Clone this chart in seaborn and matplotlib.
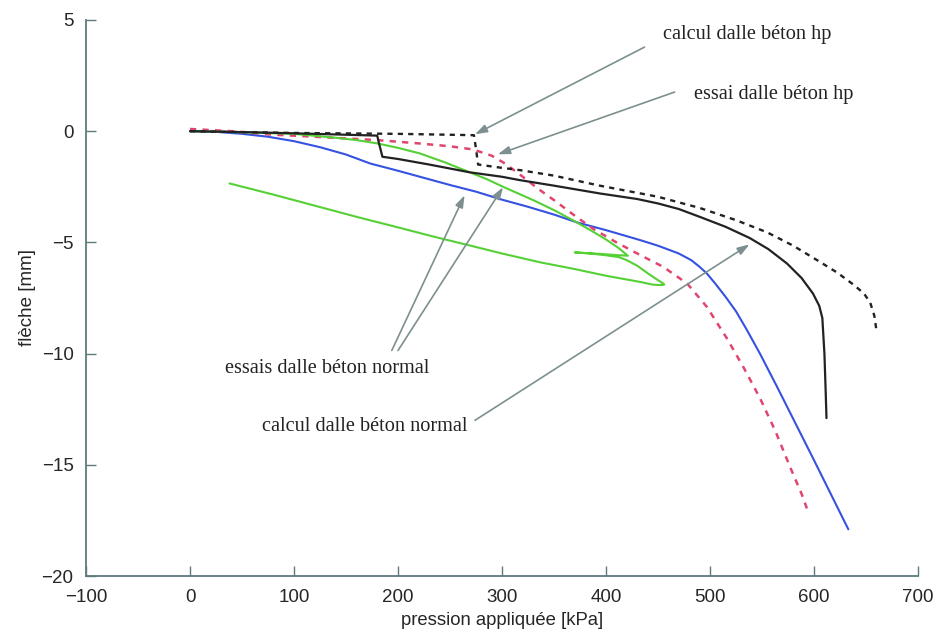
import matplotlib
matplotlib.use("Agg")
import matplotlib.pyplot as plt
import seaborn as sns

# pression appliquée [kPa] / flèche [mm]
blue_x = [0, 25, 50, 75, 100, 125, 150, 173, 200, 225, 250, 275, 300, 325, 350, 372, 400, 433,
          450, 470, 482, 490, 497, 505, 515, 525, 535, 548, 564, 599, 633]
blue_y = [0, -0.03, -0.12, -0.25, -0.45, -0.72, -1.05, -1.45, -1.78, -2.1, -2.42, -2.72, -3.08,
          -3.4, -3.75, -4.1, -4.45, -4.9, -5.15, -5.5, -5.8, -6.1, -6.4, -6.85, -7.45, -8.1,
          -8.9, -10.0, -11.45, -14.7, -17.9]

red_x = [0, 40, 77, 120, 180, 220, 250, 272, 290, 301, 310, 320, 335, 350, 370, 388, 410, 430,
         455, 478, 497, 516, 532, 548, 563, 577, 588, 595]
red_y = [0.1, 0.0, -0.15, -0.25, -0.4, -0.55, -0.68, -0.82, -1.1, -1.4, -1.7, -2.05, -2.6, -3.1,
         -3.8, -4.4, -5.0, -5.5, -6.1, -6.85, -7.9, -9.3, -10.6, -12.0, -13.5, -15.1, -16.3, -17.2]

black_x = [0, 60, 120, 180, 182, 185, 200, 230, 269, 300, 317, 350, 394, 430, 450, 470, 490,
           515, 538, 556, 574, 588, 599, 605, 608, 610, 611, 612]
black_y = [0, -0.05, -0.12, -0.2, -0.6, -1.15, -1.25, -1.5, -1.85, -2.05, -2.2, -2.45, -2.8,
           -3.05, -3.25, -3.5, -3.85, -4.3, -4.8, -5.3, -5.95, -6.6, -7.3, -7.85, -8.4, -10.0,
           -11.4, -12.9]

black_dash_x = [0, 100, 200, 273, 275, 277, 300, 317, 350, 394, 450, 490, 525, 555, 580, 603,
                622, 638, 648, 654, 658, 660]
black_dash_y = [0, -0.08, -0.12, -0.18, -0.8, -1.5, -1.65, -1.75, -2.0, -2.45, -2.95, -3.45,
                -4.0, -4.55, -5.15, -5.8, -6.35, -6.9, -7.3, -7.7, -8.3, -8.95]

# essai avec décharge / recharge
green_x = [0, 50, 100, 141, 160, 180, 200, 221, 245, 269, 285, 301, 330, 350, 368, 385, 401,
           412, 421,
           410, 395, 380, 370,
           385, 400, 412, 420, 430, 442, 450, 455, 456,
           452, 445, 433, 400, 370, 337, 300, 270, 235, 202, 160, 120, 80, 38]
green_y = [0, -0.05, -0.12, -0.3, -0.4, -0.55, -0.75, -1.0, -1.4, -1.85, -2.15, -2.5, -3.1,
           -3.55, -4.0, -4.45, -4.9, -5.25, -5.6,
           -5.57, -5.52, -5.48, -5.45,
           -5.5, -5.58, -5.66, -5.8, -6.05, -6.45, -6.7, -6.85, -6.9,
           -6.92, -6.9, -6.78, -6.5, -6.2, -5.9, -5.5, -5.15, -4.75, -4.35, -3.85, -3.35, -2.85,
           -2.35]

xticks = [-100, 0, 100, 200, 300, 400, 500, 600, 700]
yticks = [-20, -15, -10, -5, 0, 5]

sns.set_style("ticks")
plt.rcParams['font.family'] = ['Liberation Sans', 'DejaVu Sans']

spine_col = "#5e7a7c"
arrow_col = "#7d8f8f"

fig = plt.figure(figsize=(9.38, 6.32), dpi=100)
ax = fig.add_axes([0.0917, 0.0886, 0.887, 0.8798])

sns.lineplot(x=blue_x, y=blue_y, sort=False, estimator=None, ax=ax, color="#3552e0", lw=1.5)
sns.lineplot(x=red_x, y=red_y, sort=False, estimator=None, ax=ax, color="#e0456e", lw=1.8,
             linestyle=(0, (2.5, 2.5)))
sns.lineplot(x=green_x, y=green_y, sort=False, estimator=None, ax=ax, color="#55d035", lw=1.5)
sns.lineplot(x=black_x, y=black_y, sort=False, estimator=None, ax=ax, color="#222222", lw=1.6)
sns.lineplot(x=black_dash_x, y=black_dash_y, sort=False, estimator=None, ax=ax, color="#222222",
             lw=1.7, linestyle=(0, (2.2, 2.2)))

ax.set_xlim(-100, 700)
ax.set_ylim(-20, 5)
ax.set_xticks(xticks)
ax.set_yticks(yticks)
ax.set_xlabel("pression appliquée [kPa]", fontsize=13.3, labelpad=5)
ax.set_ylabel("flèche [mm]", fontsize=13.5, labelpad=4)
ax.tick_params(direction="in", length=7, width=1, color=spine_col, labelsize=13.5, pad=9)
for side in ["top", "right"]:
    ax.spines[side].set_visible(False)
for side in ["left", "bottom"]:
    ax.spines[side].set_color(spine_col)
    ax.spines[side].set_linewidth(1.3)

# annotations
serif = ['Liberation Serif', 'DejaVu Serif']
arrows = [
    ((437, 3.78), (274, -0.14)),
    ((466, 1.76), (296, -1.04)),
    ((194, -9.86), (264, -2.88)),
    ((200, -9.86), (301, -2.52)),
    ((274, -13.0), (538, -5.09)),
]
for tail, head in arrows:
    ax.annotate("", xy=head, xytext=tail,
                arrowprops=dict(arrowstyle="-|>,head_length=0.6,head_width=0.2",
                                color=arrow_col, lw=1.2, mutation_scale=12,
                                shrinkA=0, shrinkB=0))

labels = [
    (455, 4.36, "calcul dalle béton hp"),
    (485, 1.65, "essai dalle béton hp"),
    (34, -10.65, "essais dalle béton normal"),
    (69, -13.28, "calcul dalle béton normal"),
]
for x, y, s in labels:
    ax.text(x, y, s, family=serif, fontsize=14.6, va="center", ha="left", color="#222222")

fig.savefig("out.png", dpi=100)
